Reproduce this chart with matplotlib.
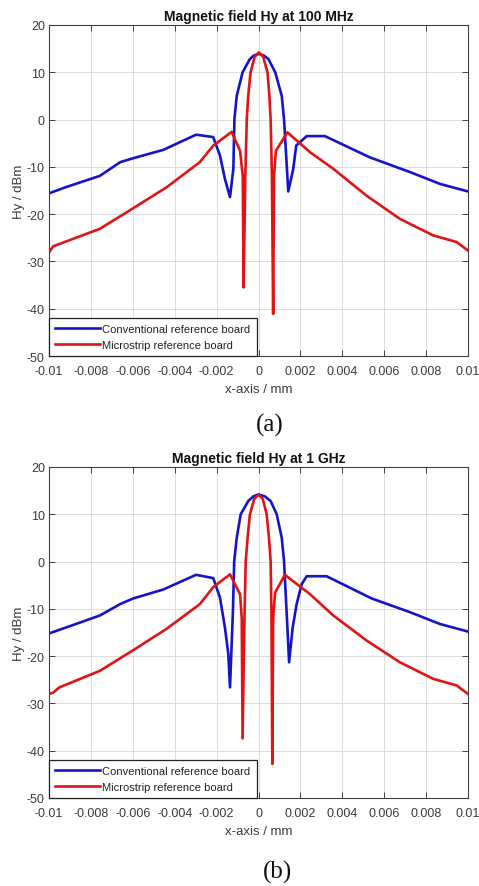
import matplotlib
matplotlib.use("Agg")
import matplotlib.pyplot as plt

plt.rcParams['font.family'] = ['Liberation Sans', 'DejaVu Sans']

# ---------------- data (a) 100 MHz ----------------
conv_a_x = [-0.0100, -0.0092, -0.00757, -0.0066, -0.0060, -0.00454, -0.00298, -0.00216,
            -0.00184, -0.00160, -0.00136, -0.00120, -0.00115, -0.00104, -0.00076, -0.00041,
            -0.00024, 0.00002, 0.00027, 0.00047, 0.00080, 0.00111, 0.00122, 0.00142,
            0.00166, 0.00180, 0.00230, 0.00317, 0.00532, 0.00723, 0.00866, 0.0100]
conv_a_y = [-15.6, -14.3, -11.9, -9.0, -8.2, -6.4, -3.2, -3.7,
            -7.6, -12.6, -16.4, -10.4, 0.0, 5.0, 10.0, 12.8,
            13.5, 13.9, 13.5, 12.8, 10.0, 5.0, 0.0, -15.2,
            -10.4, -5.5, -3.5, -3.5, -8.0, -11.1, -13.6, -15.2]

micro_a_x = [-0.0100, -0.0098, -0.0095, -0.00757, -0.0060, -0.00438, -0.0028, -0.00216,
             -0.00128, -0.00088, -0.00075, -0.00071, -0.00063, -0.00056, -0.00049, -0.00038,
             -0.00018, 0.00002, 0.00022, 0.00043, 0.00052, 0.00058, 0.00064, 0.00070,
             0.00074, 0.00083, 0.00138, 0.00246, 0.00357, 0.00516, 0.00675, 0.00834,
             0.00946, 0.0100]
micro_a_y = [-28.1, -26.8, -26.3, -23.1, -18.8, -14.3, -9.0, -5.5,
             -2.6, -6.6, -12.0, -35.5, -12.0, 0.0, 5.0, 10.0,
             13.3, 14.2, 13.3, 10.0, 5.0, 0.0, -12.0, -41.1,
             -12.0, -6.6, -2.7, -6.9, -10.4, -16.1, -21.0, -24.5,
             -25.9, -27.7]

# ---------------- data (b) 1 GHz ----------------
conv_b_x = [-0.0100, -0.00916, -0.00757, -0.00661, -0.00598, -0.00454, -0.00298, -0.00216,
            -0.00184, -0.00160, -0.00144, -0.00136, -0.00122, -0.00116, -0.00104, -0.00085,
            -0.00049, -0.00024, 0.00000, 0.00030, 0.00058, 0.00087, 0.00111, 0.00122,
            0.00138, 0.00146, 0.00163, 0.00182, 0.00206, 0.00230, 0.00325, 0.00540,
            0.00723, 0.00866, 0.0100]
conv_b_y = [-15.2, -13.9, -11.4, -9.0, -7.8, -5.9, -2.8, -3.5,
            -7.6, -14.0, -19.6, -26.6, -10.4, 0.0, 5.0, 10.0,
            12.8, 13.8, 14.2, 13.8, 12.8, 10.0, 5.0, 0.0,
            -14.0, -21.3, -14.0, -9.0, -4.8, -3.1, -3.1, -7.8,
            -10.7, -13.2, -14.8]

micro_b_x = [-0.0100, -0.0098, -0.0095, -0.00757, -0.0060, -0.00438, -0.0028, -0.00216,
             -0.00136, -0.00088, -0.00080, -0.00076, -0.00067, -0.00061, -0.00052, -0.00041,
             -0.00020, 0.00000, 0.00020, 0.00039, 0.00050, 0.00058, 0.00062, 0.00066,
             0.00070, 0.00079, 0.00126, 0.00246, 0.00357, 0.00516, 0.00675, 0.00834,
             0.00946, 0.0100]
micro_b_y = [-28.0, -27.7, -26.6, -23.1, -18.8, -14.2, -9.0, -5.4,
             -2.7, -6.9, -12.0, -37.4, -12.0, 0.0, 5.0, 10.0,
             13.3, 14.1, 13.3, 10.0, 5.0, 0.0, -12.0, -42.8,
             -12.0, -6.6, -2.8, -6.9, -11.4, -16.7, -21.3, -24.8,
             -26.2, -28.0]

titles = ["Magnetic field Hy at 100 MHz", "Magnetic field Hy at 1 GHz"]
captions = ["(a)", "(b)"]
series_names = ["Conventional reference board", "Microstrip reference board"]
xticks = [-0.01, -0.008, -0.006, -0.004, -0.002, 0, 0.002, 0.004, 0.006, 0.008, 0.01]
xticklabels = ["-0.01", "-0.008", "-0.006", "-0.004", "-0.002", "0",
               "0.002", "0.004", "0.006", "0.008", "0.01"]
yticks = [-50, -40, -30, -20, -10, 0, 10, 20]
yticklabels = ["-50", "-40", "-30", "-20", "-10", "0", "10", "20"]

BLUE = "#1414c8"
RED = "#e01414"
TXT = "#3a3a3a"

fig = plt.figure(figsize=(4.79, 8.87), dpi=100)
fig.patch.set_facecolor("white")

W, H = 479.0, 887.0
panels = [
    (conv_a_x, conv_a_y, micro_a_x, micro_a_y, 26, 357, 270, 425),
    (conv_b_x, conv_b_y, micro_b_x, micro_b_y, 468, 799, 278, 872),
]

for i, (cx, cy, mx, my, top, bot, capx, capy) in enumerate(panels):
    ax = fig.add_axes([49 / W, 1 - bot / H, 419 / W, (bot - top) / H])
    ax.plot(cx, cy, color=BLUE, lw=1.9, label=series_names[0], solid_joinstyle='round')
    ax.plot(mx, my, color=RED, lw=1.9, label=series_names[1], solid_joinstyle='round')
    ax.set_xlim(-0.01, 0.01)
    ax.set_ylim(-50, 20)
    ax.set_xticks(xticks)
    ax.set_xticklabels(xticklabels)
    ax.set_yticks(yticks)
    ax.set_yticklabels(yticklabels)
    ax.grid(True, color="#dcdcdc", lw=0.7)
    ax.set_axisbelow(True)
    ax.tick_params(direction='in', top=True, right=True, length=4, width=0.7,
                   labelsize=9, labelcolor=TXT, color="#404040")
    ax.tick_params(axis='x', pad=6.5)
    ax.tick_params(axis='y', pad=3)
    for s in ax.spines.values():
        s.set_color("#404040")
        s.set_linewidth(0.8)
    ax.set_title(titles[i], fontsize=10, fontweight='bold', pad=3.5, color="#111111")
    ax.set_xlabel("x-axis / mm", fontsize=9.5, color=TXT, labelpad=4)
    ax.set_ylabel("Hy / dBm", fontsize=9.5, color=TXT, labelpad=1)
    leg = ax.legend(loc='lower left', borderaxespad=0, fontsize=8, frameon=True,
                    fancybox=False, framealpha=1, edgecolor="#222222",
                    handlelength=4.0, handletextpad=0.25, borderpad=0.55,
                    labelspacing=0.5, labelcolor="#222222")
    leg.get_frame().set_linewidth(0.9)
    fig.text(capx / W, 1 - capy / H, captions[i], ha='center', va='center',
             fontsize=18, family=['Liberation Serif', 'DejaVu Serif'], color="#111111")

fig.savefig("out.png", dpi=100, facecolor="white")
